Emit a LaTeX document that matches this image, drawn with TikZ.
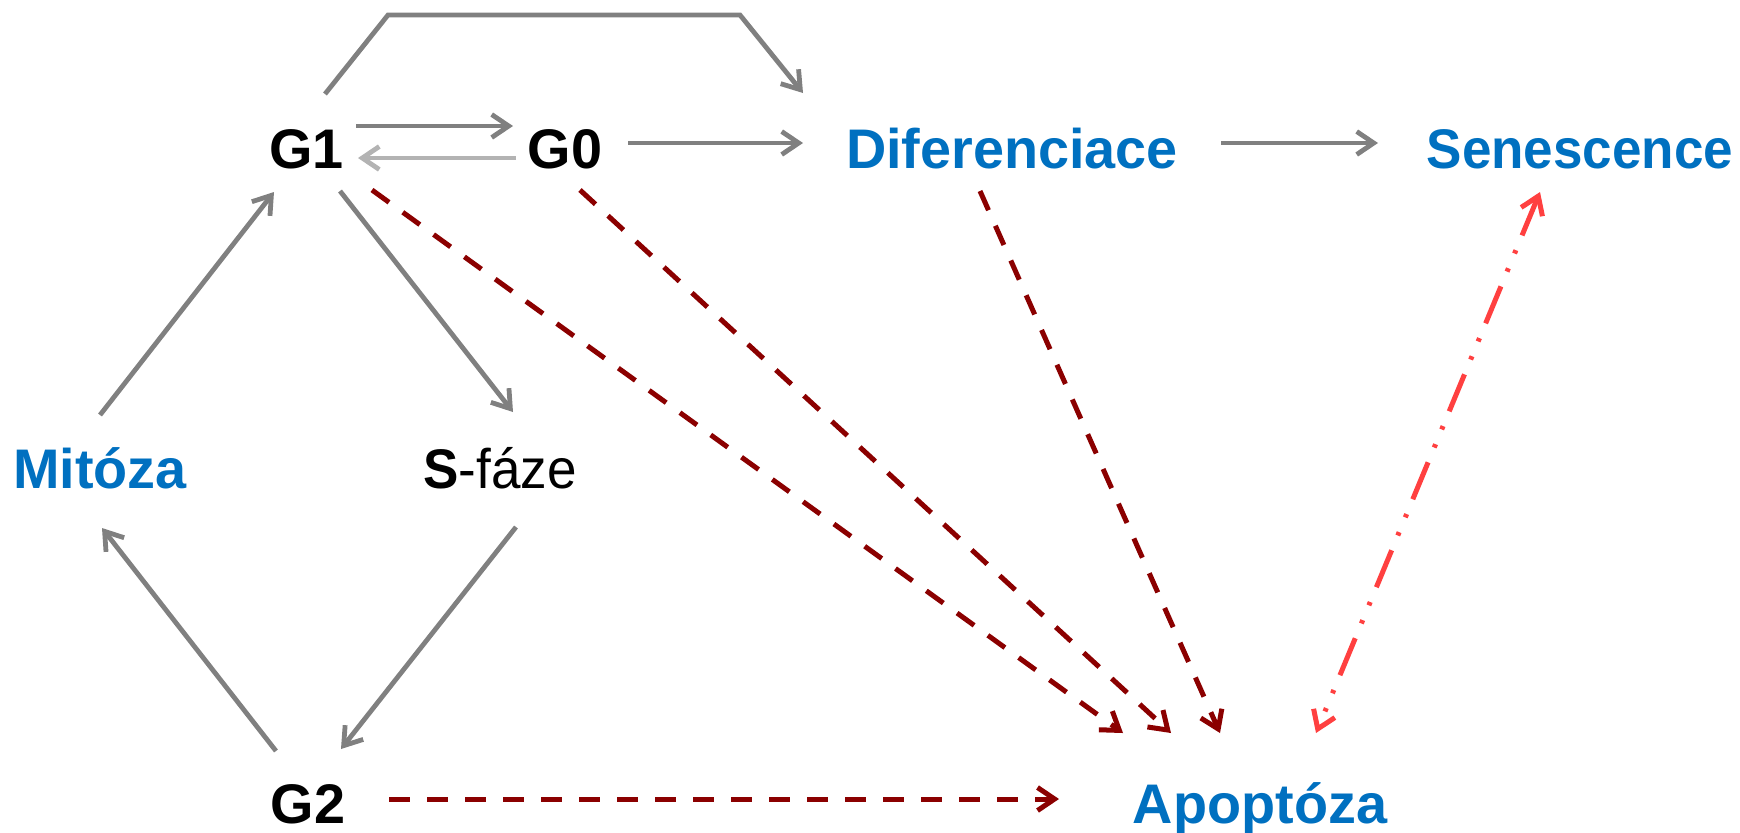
\documentclass[tikz,border=0pt]{standalone}
\usepackage{fontspec}
\setmainfont{Liberation Sans}
\usetikzlibrary{arrows.meta,calc}
\definecolor{arrgray}{HTML}{808080}
\definecolor{lightarr}{HTML}{B3B3B3}
\definecolor{darkred}{HTML}{8B0000}
\definecolor{lightred}{HTML}{FF4040}
\definecolor{bluetext}{HTML}{0070C0}
\tikzset{
  lbl/.style={anchor=base, inner sep=0pt, font=\fontsize{27.9}{30}\selectfont\bfseries},
  bluelbl/.style={lbl, text=bluetext},
  tip/.style={-{Straight Barb[length=8.5pt,width=11.5pt]}},
  grayarr/.style={tip, draw=arrgray, line width=2.4pt},
  lightgrayarr/.style={tip, draw=lightarr, line width=2.4pt},
  redarr/.style={tip, draw=darkred, line width=2.5pt, dash pattern=on 10.5pt off 8.5pt},
  senarr/.style={{Straight Barb[length=8.5pt,width=11.5pt]}-{Straight Barb[length=8.5pt,width=11.5pt]}, draw=lightred, line width=2.5pt,
     dash pattern=on 20pt off 8pt on 1.8pt off 8pt on 1.8pt off 8pt}
}
\begin{document}
\begin{tikzpicture}[x=0.5pt,y=-0.5pt]
\path[use as bounding box] (0,0) rectangle (1740,832);
\node[lbl] (G1) at (306.5,168) {G1};
\node[lbl] (G0) at (565,168) {G0};
\node[bluelbl] (Dif) at (1012,168) {Diferenciace};
\node[bluelbl, xscale=0.95] (Sen) at (1580,168) {Senescence};
\node[bluelbl] (Mit) at (100,488) {Mitóza};
\node[lbl, xscale=0.95] (S) at (500,488) {S\mdseries-fáze};
\node[lbl] (G2) at (308,823) {G2};
\node[bluelbl] (Apo) at (1260,823) {Apoptóza};
% gray arrows
\draw[grayarr] ($(G1.base)+(49.5,-42)$) -- ($(G0.base)+(-52,-42)$);
\draw[lightgrayarr] ($(G0.base)+(-49,-10)$) -- ($(G1.base)+(51.5,-10)$);
\draw[grayarr] ($(G0.base)+(63,-25)$) -- ($(Dif.base)+(-209,-25)$);
\draw[grayarr] ($(Dif.base)+(209,-25)$) -- ($(Sen.base)+(-202,-25)$);
\draw[grayarr] ($(G1.base)+(18.5,-74)$) -- ($(G1.base)+(81.5,-153)$) -- ($(Dif.base)+(-272,-153)$) -- ($(Dif.base)+(-209,-75)$);
\draw[grayarr] ($(G1.base)+(33.5,23)$) -- ($(S.base)+(13,-76)$);
\draw[grayarr] ($(Mit.base)+(0,-73)$) -- ($(G1.base)+(-32.5,24)$);
\draw[grayarr] ($(S.base)+(16,39)$) -- ($(G2.base)+(33,-74)$);
\draw[grayarr] ($(G2.base)+(-32,-72)$) -- ($(Mit.base)+(2,40)$);
% red dashed arrows
\draw[redarr] ($(G1.base)+(65.5,22)$) -- ($(Apo.base)+(-137,-90)$);
\draw[redarr] ($(G0.base)+(15,22)$) -- ($(Apo.base)+(-89,-90)$);
\draw[redarr] ($(Dif.base)+(-32,23)$) -- ($(Apo.base)+(-40,-90)$);
\draw[redarr] ($(G2.base)+(81,-24)$) -- ($(Apo.base)+(-201,-24)$);
% senescence - apoptosis
\draw[senarr] ($(Sen.base)+(-40,24)$) -- ($(Apo.base)+(56,-90)$);
\end{tikzpicture}
\end{document}
